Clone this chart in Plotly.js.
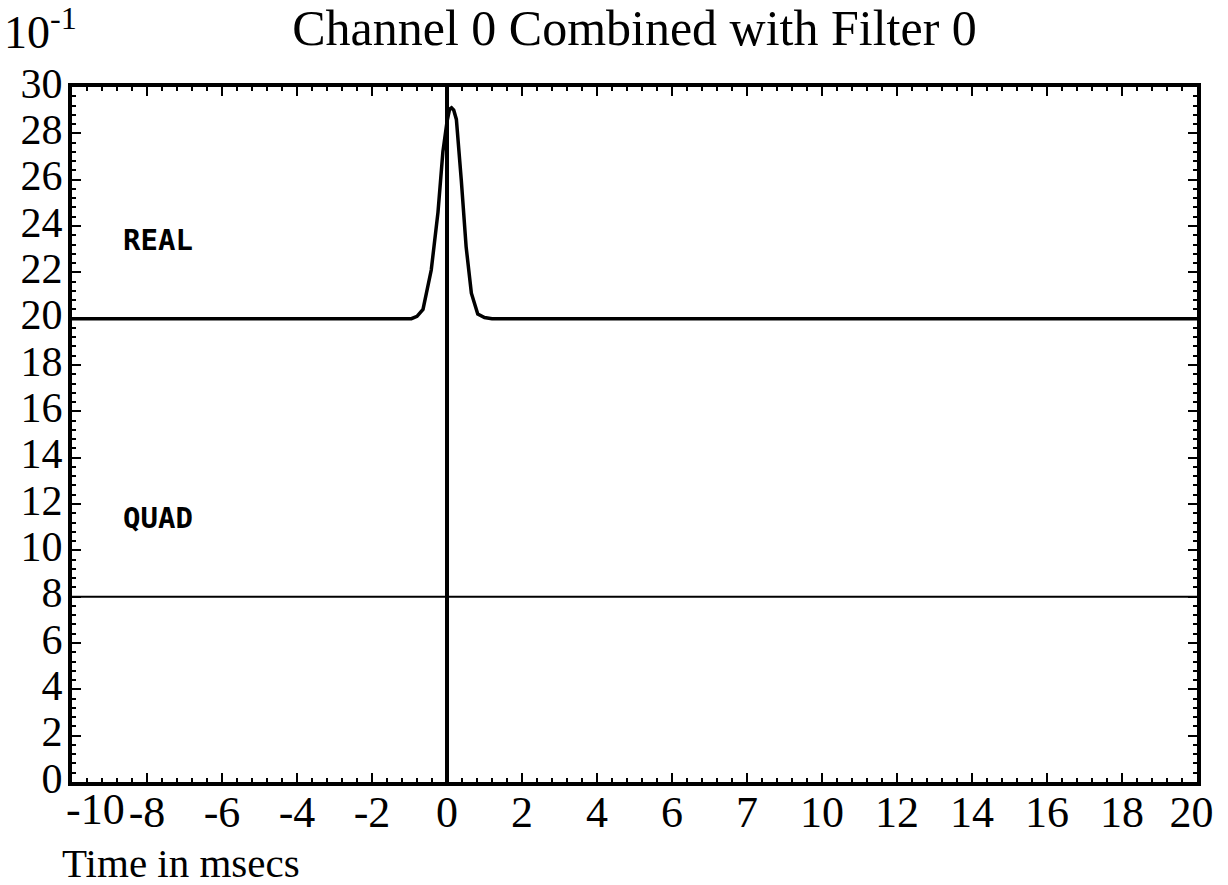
<!DOCTYPE html>
<html>
<head>
<meta charset="utf-8">
<script src="https://cdn.plot.ly/plotly-3.0.1.min.js"></script>
<style>html,body{margin:0;padding:0;background:#fff;}#chart{width:1228px;height:885px;}</style>
</head>
<body>
<div id="chart"></div>
<script>
// Data (y in units of 10^-1)
const realX = [-10, -0.95, -0.8, -0.64, -0.42, -0.24, -0.11, 0.0, 0.07, 0.12, 0.18, 0.25, 0.38, 0.51, 0.65, 0.75, 0.82, 1.0, 1.2, 20];
const realY = [20, 20, 20.1, 20.4, 22.1, 24.6, 27.2, 28.5, 29.05, 29.1, 29.0, 28.6, 26.0, 23.1, 21.1, 20.5, 20.2, 20.05, 20, 20];
const quadX = [-10, 20];
const quadY = [8, 8];
const markerX = [0, 0];
const markerY = [0, 30];
// the first label (-10) sits right of its tick (the left frame edge) in the reference; it is drawn as a separate label
const xTickVals = [-8, -6, -4, -2, 0, 2, 4, 6, 8, 10, 12, 14, 16, 18, 20];
const xTickText = ["-8", "-6", "-4", "-2", "0", "2", "4", "6", "7", "10", "12", "14", "16", "18", "20\u00a0"];
const xFirstLabel = {text: "-10", x: -10};
const yTickVals = [0, 2, 4, 6, 8, 10, 12, 14, 16, 18, 20, 22, 24, 26, 28, 30];
const yTickText = yTickVals.map(String);
const titleText = "Channel 0 Combined with Filter 0";
const xLabel = "Time in msecs";
const yScaleLabel = "10<sup>-1</sup>";
const realLabel = {text: "REAL", x: -7.7, y: 23.4};
const quadLabel = {text: "QUAD", x: -7.7, y: 11.4};

const serif = "Liberation Serif, Times New Roman, serif";

const traces = [
  {x: realX, y: realY, type: "scatter", mode: "lines", line: {color: "#000", width: 3.5}, hoverinfo: "skip", showlegend: false},
  {x: quadX, y: quadY, type: "scatter", mode: "lines", line: {color: "#000", width: 2}, hoverinfo: "skip", showlegend: false},
  {x: markerX, y: markerY, type: "scatter", mode: "lines", line: {color: "#000", width: 4}, hoverinfo: "skip", showlegend: false}
];

const axisCommon = {
  showline: true, linecolor: "#000", linewidth: 4, mirror: "allticks",
  ticks: "inside", ticklen: 9, tickwidth: 2, tickcolor: "#000",
  showgrid: false, zeroline: false, fixedrange: true,
  tickfont: {family: serif, size: 44, color: "#000"},
  minor: {ticks: "inside", ticklen: 4, tickwidth: 2, tickcolor: "#000", dtick: 0.4, showgrid: false}
};

const layout = {
  width: 1228, height: 885,
  margin: {l: 72, r: 31, t: 87, b: 103},
  paper_bgcolor: "#fff", plot_bgcolor: "#fff",
  showlegend: false,
  title: {text: titleText, font: {family: serif, size: 50, color: "#000"}, xref: "paper", x: 0.5, xanchor: "center", yref: "container", y: 0.969, yanchor: "middle"},
  xaxis: Object.assign({}, axisCommon, {range: [-10, 20], tickmode: "array", tickvals: xTickVals, ticktext: xTickText, ticklabelstandoff: -12}),
  yaxis: Object.assign({}, axisCommon, {range: [0, 30], tickmode: "array", tickvals: yTickVals, ticktext: yTickText, ticklabelstandoff: -3, ticklabelshift: -4, tickfont: {family: serif, size: 42, color: "#000"}}),
  annotations: [
    {text: yScaleLabel, xref: "paper", yref: "paper", x: -0.062, y: 1.083, xanchor: "left", yanchor: "middle", showarrow: false, font: {family: serif, size: 46, color: "#000"}},
    {text: xFirstLabel.text, xref: "x", yref: "paper", x: xFirstLabel.x, xshift: -7, y: -0.0395, xanchor: "left", yanchor: "middle", showarrow: false, borderpad: 0, font: {family: serif, size: 44, color: "#000"}},
    {text: xLabel, xref: "paper", yref: "paper", x: -0.011, y: -0.117, xanchor: "left", yanchor: "middle", showarrow: false, font: {family: serif, size: 41, color: "#000"}},
    {text: "<b>" + realLabel.text + "</b>", x: realLabel.x, y: realLabel.y, xref: "x", yref: "y", showarrow: false, font: {family: "DejaVu Sans Mono, monospace", size: 29, color: "#000"}},
    {text: "<b>" + quadLabel.text + "</b>", x: quadLabel.x, y: quadLabel.y, xref: "x", yref: "y", showarrow: false, font: {family: "DejaVu Sans Mono, monospace", size: 29, color: "#000"}}
  ]
};

Plotly.newPlot("chart", traces, layout, {staticPlot: true, displayModeBar: false});
</script>
</body>
</html>
